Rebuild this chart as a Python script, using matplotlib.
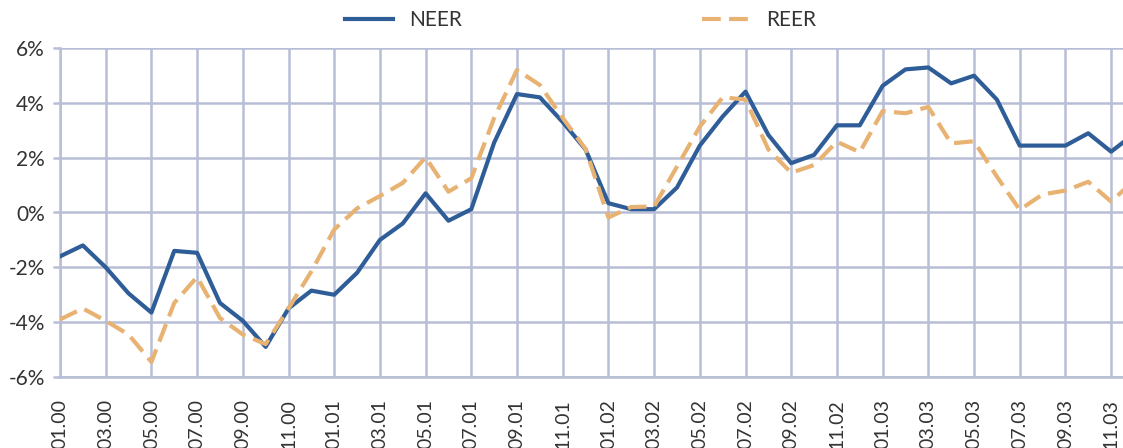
import matplotlib
matplotlib.use("Agg")
import matplotlib.pyplot as plt
from matplotlib.ticker import FuncFormatter

# monthly observations, 01.00 onwards (year-on-year change, %)
months = [f"{m:02d}.{y:02d}" for y in range(0, 4) for m in range(1, 13)]

neer = [-1.6, -1.2, -2.0, -2.95, -3.65, -1.4, -1.47, -3.3, -3.95, -4.9,
        -3.5, -2.85, -3.0, -2.2, -1.0, -0.4, 0.7, -0.3, 0.12, 2.55,
        4.32, 4.2, 3.3, 2.3, 0.34, 0.12, 0.12, 0.91, 2.44, 3.5,
        4.41, 2.83, 1.8, 2.1, 3.18, 3.18, 4.62, 5.22, 5.29, 4.71,
        4.99, 4.12, 2.44, 2.44, 2.44, 2.89, 2.22, 2.86]

reer = [-3.9, -3.5, -3.95, -4.45, -5.45, -3.3, -2.35, -3.85, -4.45, -4.8,
        -3.5, -2.15, -0.62, 0.15, 0.6, 1.08, 2.01, 0.76, 1.25, 3.45,
        5.2, 4.65, 3.45, 2.32, -0.18, 0.2, 0.22, 1.67, 3.13, 4.2,
        4.12, 2.3, 1.45, 1.73, 2.58, 2.2, 3.7, 3.62, 3.85, 2.52,
        2.6, 1.31, 0.1, 0.66, 0.8, 1.12, 0.4, 1.16]

grid_col = "#B7BED5"
text_col = "#333333"

fig = plt.figure(figsize=(11.23, 4.48), dpi=100)
# axes run past the right edge of the picture, like the original
ax = fig.add_axes([60 / 1123, 1 - 377 / 448, 47 * 22.85 / 1123, 329 / 448])

x = list(range(len(months)))
ax.plot(x, neer, color="#2F5D98", lw=3, label="NEER", zorder=3)
ax.plot(x, reer, color="#E8B272", lw=3, dashes=(4.5, 2), label="REER", zorder=3)

ax.set_xlim(0, 47)
ax.set_ylim(-6, 6)
ax.set_yticks(range(-6, 7, 2))
ax.yaxis.set_major_formatter(FuncFormatter(lambda v, p: f"{v:.0f}%"))
ax.set_xticks(x[::2])
ax.set_xticklabels(months[::2], rotation=90, va="top")

ax.grid(True, color=grid_col, lw=1.8)
ax.set_axisbelow(True)
for side in ["top", "right"]:
    ax.spines[side].set_visible(False)
for side in ["left", "bottom"]:
    ax.spines[side].set_color(grid_col)
    ax.spines[side].set_linewidth(1.8)
ax.tick_params(axis="y", length=5, width=1.8, color=grid_col, labelsize=15,
               labelcolor=text_col, pad=6)
ax.tick_params(axis="x", length=0, labelsize=14, labelcolor=text_col, pad=16)
for lab in ax.get_xticklabels() + ax.get_yticklabels():
    lab.set_fontfamily("Lato")

leg = fig.legend(loc="center", bbox_to_anchor=(0.517, 0.955), ncol=2, frameon=False,
                 columnspacing=11.5, handlelength=2.3,
                 prop={"family": "Lato", "size": 15})
for t in leg.get_texts():
    t.set_color(text_col)

fig.savefig("out.png", dpi=100)
